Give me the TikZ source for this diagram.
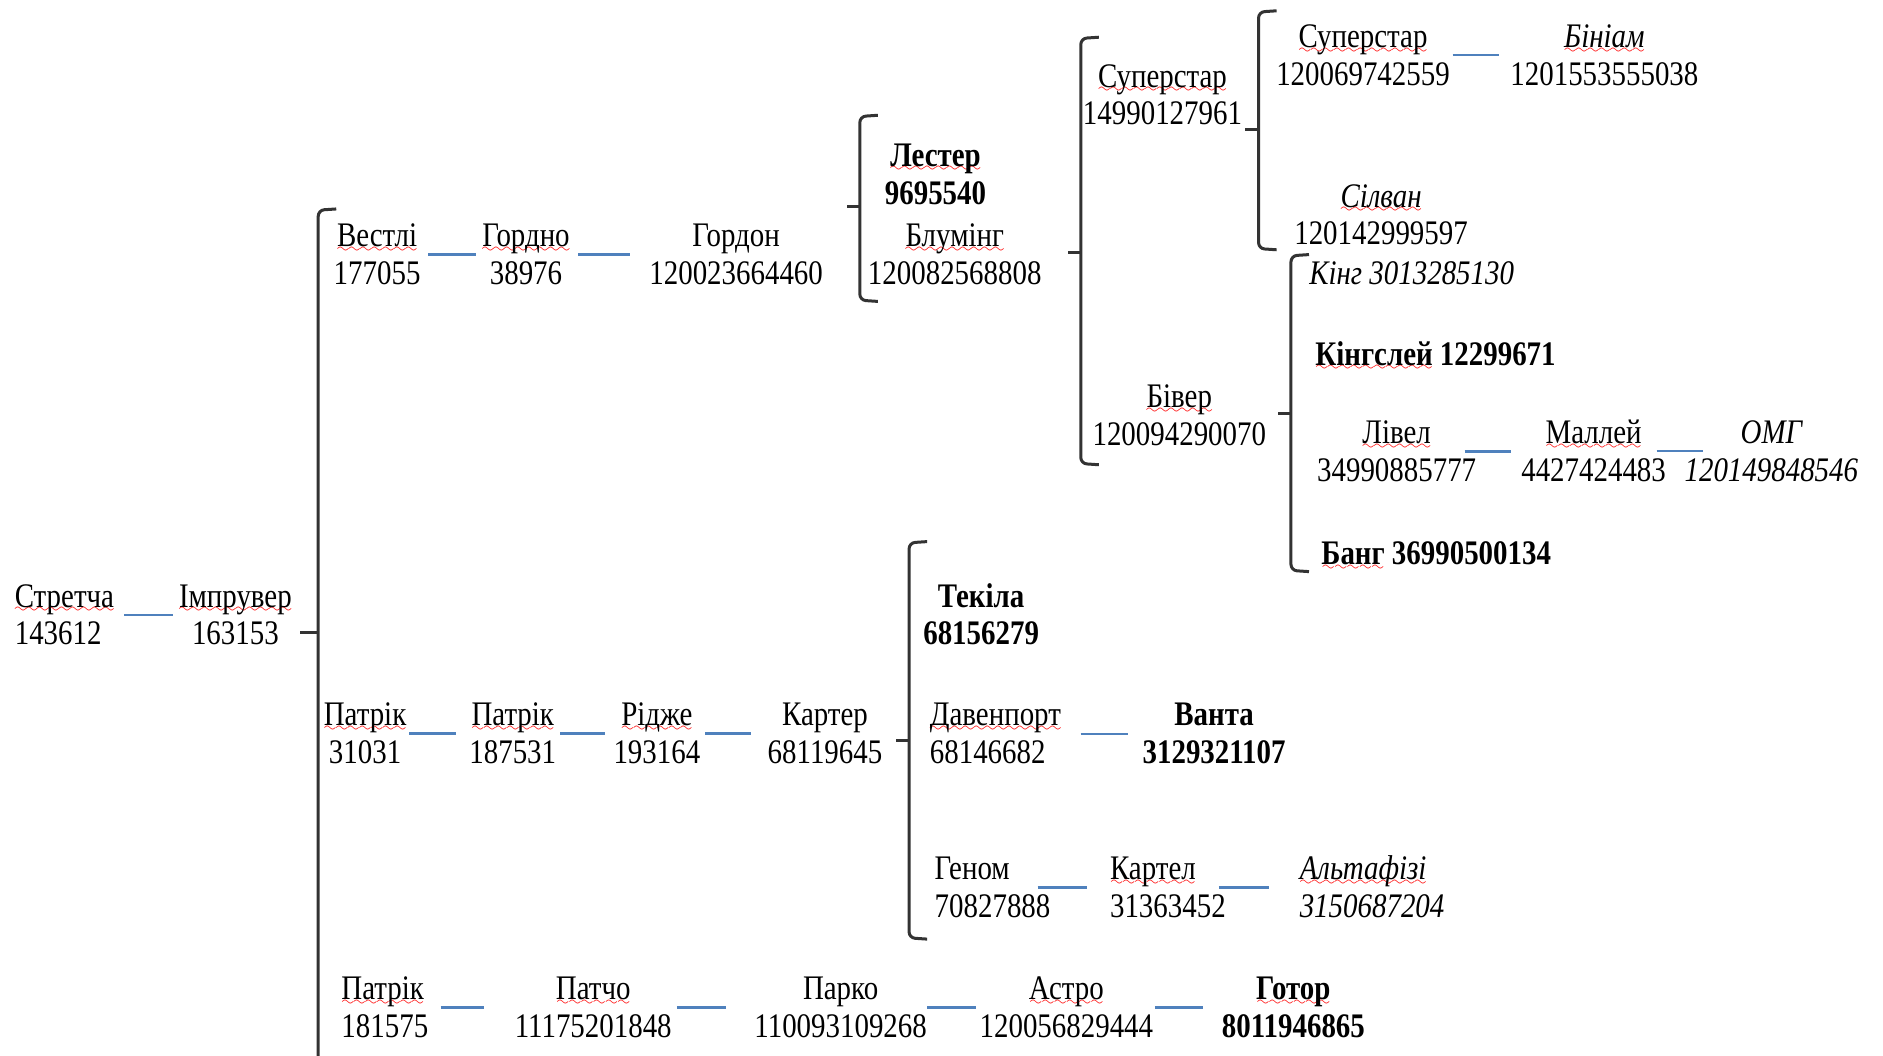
\documentclass[tikz,border=0pt]{standalone}
\usepackage{fontspec}
\setmainfont[FakeStretch=0.84]{Liberation Serif}
\definecolor{lnkblue}{HTML}{4F81BD}
\definecolor{brkgrey}{HTML}{333333}
\font\spellfont=lasy7
% red spell-check wave under a word
\newcommand\spellmark[1]{\setbox0\hbox{#1}\rlap{\textcolor{red}{\lower2.8pt\hbox to\wd0{\xleaders\hbox{\spellfont\char58}\hfil}}}\box0\relax}
\newcommand\lblfont{\fontsize{17.2pt}{18.9pt}\selectfont}
% bracket: x, top, tick, bottom
\newcommand\bracegroup[4]{%
  \draw[brk] (#1+15,#2-1) -- (#1,#2) -- (#1,#4) -- (#1+15,#4+1);
  \draw[brk,rounded corners=0pt] (#1,#3) -- (#1-11,#3);
}
\tikzset{
  font=\lblfont,
  lbl/.style={anchor=base,align=center,inner sep=0pt},
  lblw/.style={anchor=base west,align=left,inner sep=0pt},
  bold/.style={font=\lblfont\bfseries},
  ital/.style={font=\lblfont\itshape},
  link/.style={draw=lnkblue,line width=1.2pt},
  brk/.style={draw=brkgrey,line width=1.5pt,rounded corners=3pt},
}

\begin{document}
\begin{tikzpicture}[x=0.6pt,y=-0.6pt]
  \fill[white] (0,0) rectangle (1568,879);
  \useasboundingbox (0,0) rectangle (1568,879);

  % root chain (nodes sit on the baseline of their last line)
  \node[lblw] (stretcha) at (12,537) {\spellmark{Стретча}\\143612};
  \node[lbl] (improver) at (196,537) {\spellmark{Імпрувер}\\163153};

  % upper branch
  \node[lbl] (westley) at (314,237) {\spellmark{Вестлі}\\177055};
  \node[lbl] (gordno) at (438,237) {\spellmark{Гордно}\\38976};
  \node[lbl] (gordon) at (613,237) {Гордон\\120023664460};
  \node[lbl,bold] (lester) at (779,170) {\spellmark{Лестер}\\9695540};
  \node[lbl] (bluming) at (795,237) {\spellmark{Блумінг}\\120082568808};
  \node[lbl] (superstar1) at (968,104) {\spellmark{Суперстар}\\14990127961};
  \node[lbl] (biver) at (982,371) {\spellmark{Бівер}\\120094290070};
  \node[lbl] (superstar2) at (1135,71) {\spellmark{Суперстар}\\120069742559};
  \node[lbl] (biniam) at (1336,71) {\spellmark{\textit{Бініам}}\\1201553555038};
  \node[lbl] (silvan) at (1150,204) {\spellmark{\textit{Сілван}}\\120142999597};
  \node[lblw,ital] (king) at (1090,237) {Кінг 3013285130};
  \node[lblw,bold] (kingsley) at (1095,304) {\spellmark{Кінгслей} 12299671};
  \node[lbl] (livel) at (1163,401) {\spellmark{Лівел}\\34990885777};
  \node[lbl] (malley) at (1327,401) {\spellmark{Маллей}\\4427424483};
  \node[lbl,ital] (omg) at (1475,401) {ОМГ\\120149848546};
  \node[lblw,bold] (bang) at (1100,470) {\spellmark{Банг} 36990500134};

  % middle branch
  \node[lbl] (patrick1) at (304,636) {\spellmark{Патрік}\\31031};
  \node[lbl] (patrick2) at (427,636) {\spellmark{Патрік}\\187531};
  \node[lbl] (ridge) at (547,636) {\spellmark{Рідже}\\193164};
  \node[lbl] (carter) at (687,636) {Картер\\68119645};
  \node[lbl,bold] (tequila) at (817,537) {Текіла\\68156279};
  \node[lblw] (davenport) at (774,636) {\spellmark{Давенпорт}\\68146682};
  \node[lbl,bold] (vanta) at (1011,636) {Ванта\\3129321107};
  \node[lblw] (genome) at (778,764) {Геном\\70827888};
  \node[lblw] (cartel) at (924,764) {\spellmark{Картел}\\31363452};
  \node[lblw,ital] (altafizi) at (1082,764) {\spellmark{Альтафізі}\\3150687204};

  % lower branch
  \node[lblw] (patrick3) at (284,864) {\spellmark{Патрік}\\181575};
  \node[lbl] (patcho) at (494,864) {\spellmark{Патчо}\\11175201848};
  \node[lbl] (parko) at (700,864) {Парко\\110093109268};
  \node[lbl] (astro) at (888,864) {\spellmark{Астро}\\120056829444};
  \node[lbl,bold] (gotor) at (1077,864) {\spellmark{Готор}\\8011946865};

  % blue links
  \draw[link,shorten <=4.8pt,shorten >=3pt] (stretcha.east) -- (stretcha.east -| improver.west);
  \draw[link,shorten <=3.6pt,shorten >=3pt] (westley.east) -- (westley.east -| gordno.west);
  \draw[link,shorten <=4.2pt,shorten >=9.6pt] (gordno.east) -- (gordno.east -| gordon.west);
  \draw[link,shorten <=1.2pt,shorten >=5.4pt] (superstar2.east) -- (superstar2.east -| biniam.west);
  \draw[link,shorten <=-6pt,shorten >=4.8pt] (livel.east) -- (livel.east -| malley.west);
  \draw[link,shorten <=-4.8pt,shorten >=-9.6pt] (malley.east) -- (malley.east -| omg.west);
  \draw[link,shorten <=1.2pt,shorten >=6.6pt] (patrick1.east) -- (patrick1.east -| patrick2.west);
  \draw[link,shorten <=1.8pt,shorten >=4.2pt] (patrick2.east) -- (patrick2.east -| ridge.west);
  \draw[link,shorten <=2.4pt,shorten >=8.4pt] (ridge.east) -- (ridge.east -| carter.west);
  \draw[link,shorten <=9.6pt,shorten >=7.2pt] (davenport.east) -- (davenport.east -| vanta.west);
  \draw[link,shorten <=-6.6pt,shorten >=11.4pt] (genome.east) -- (genome.east -| cartel.west);
  \draw[link,shorten <=-3.6pt,shorten >=15pt] (cartel.east) -- (cartel.east -| altafizi.west);
  \draw[link,shorten <=6pt,shorten >=15pt] (patrick3.east) -- (patrick3.east -| patcho.west);
  \draw[link,shorten <=2.4pt,shorten >=13.8pt] (patcho.east) -- (patcho.east -| parko.west);
  \draw[link,shorten >=1.8pt] (parko.east) -- (parko.east -| astro.west);
  \draw[link,shorten <=0.6pt,shorten >=9pt] (astro.east) -- (astro.east -| gotor.west);

  % brackets
  \draw[brk] (280,174) -- (265,175) -- (265,885);
  \draw[brk] (265,527) -- (250,527);
  \bracegroup{716}{97}{172}{250}
  \bracegroup{900}{32}{210}{386}
  \bracegroup{1048}{10}{108}{207}
  \bracegroup{1075}{213}{344}{475}
  \bracegroup{757}{452}{617}{781}
\end{tikzpicture}
\end{document}
